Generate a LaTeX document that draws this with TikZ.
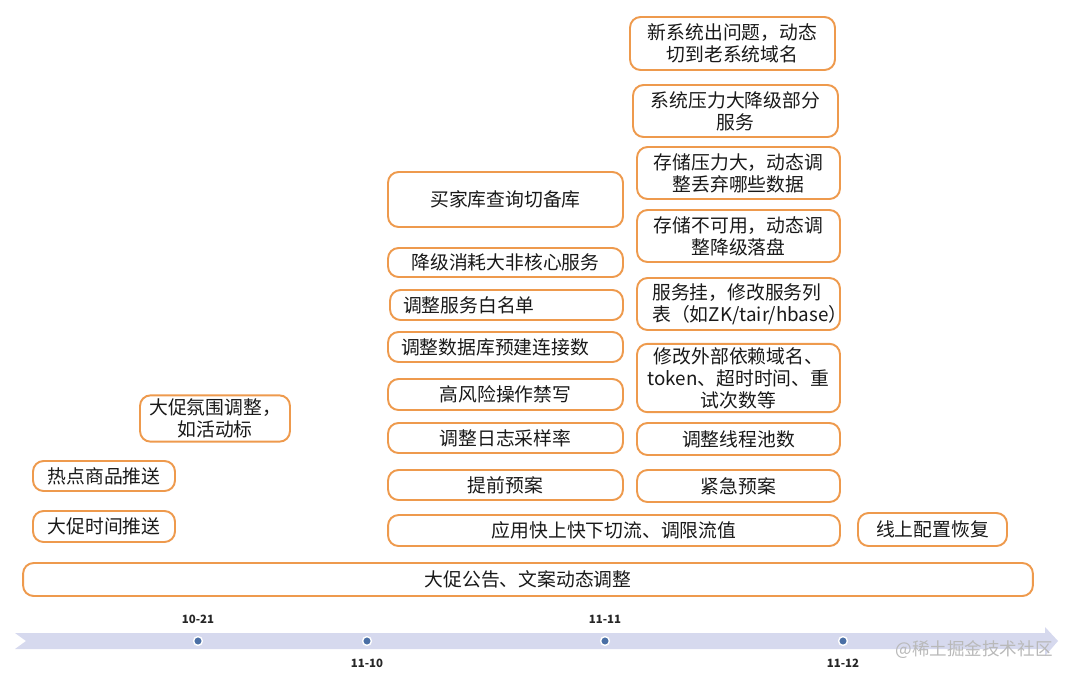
\documentclass[tikz,border=0pt]{standalone}
\usepackage{fontspec}
\setmainfont{Noto Sans CJK SC}
\definecolor{boxorange}{HTML}{EE9A4D}
\definecolor{band}{HTML}{D6D9EE}
\definecolor{dotblue}{HTML}{4A6FA5}
\begin{document}
\begin{tikzpicture}[x=0.02cm,y=-0.02cm,
  box/.style={draw=boxorange,line width=1.1pt,rounded corners=6pt,fill=white,
    inner sep=2pt,align=center,text=black!90,font=\fontsize{10.7}{12.5}\selectfont},
  tick/.style={circle,draw=white,line width=0.8pt,fill=dotblue,inner sep=0pt,minimum size=5pt},
  date/.style={font=\fontsize{6.5}{8}\selectfont\bfseries,text=black!85}]
\useasboundingbox (0,0) rectangle (1074,680);
% time line
\fill[band](15,633)--(1045,633)--(1045,627)--(1058,641)--(1045,656)--(1045,649)--(15,649)--(26,641)--cycle;
\node[tick](d1)at(198,641){};
\node[tick](d2)at(367,641){};
\node[tick](d3)at(605,641){};
\node[tick](d4)at(843,641){};
\node[date](t1)at(198,619){10-21};
\node[date](t2)at(367,663){11-10};
\node[date](t3)at(605,619){11-11};
\node[date](t4)at(843,663){11-12};
\node[text=gray!55,font=\fontsize{10}{12}\selectfont](wm)at(974,650){@稀土掘金技术社区};

% before
\node[box,minimum width=3.0cm,minimum height=0.9cm](pre1)at(215,418.5){大促氛围调整，\\如活动标};
\node[box,minimum width=2.84cm,minimum height=0.6cm](pre2)at(104,476){热点商品推送};
\node[box,minimum width=2.84cm,minimum height=0.62cm](pre3)at(104,526.5){大促时间推送};
\node[box,minimum width=20.2cm,minimum height=0.66cm](notice)at(528,579.5){大促公告、文案动态调整};

% 11-10
\node[box,minimum width=4.7cm,minimum height=1.1cm](plan1)at(505.5,199.5){买家库查询切备库};
\node[box,minimum width=4.7cm,minimum height=0.58cm](plan2)at(505.5,262.5){降级消耗大非核心服务};
\node[box,minimum width=4.66cm,minimum height=0.6cm,text width=4.14cm,align=left](plan3)at(506.5,305){调整服务白名单};
\node[box,minimum width=4.7cm,minimum height=0.6cm,text width=4.18cm,align=left](plan4)at(505.5,347){调整数据库预建连接数};
\node[box,minimum width=4.7cm,minimum height=0.62cm](plan5)at(505.5,394.5){高风险操作禁写};
\node[box,minimum width=4.7cm,minimum height=0.6cm](plan6)at(505.5,438){调整日志采样率};
\node[box,minimum width=4.7cm,minimum height=0.6cm](plan7)at(505.5,485){提前预案};
\node[box,minimum width=9.04cm,minimum height=0.62cm](flow)at(614,530.5){应用快上快下切流、调限流值};

% 11-11
\node[box,minimum width=4.1cm,minimum height=1.06cm](emg1)at(732.5,43.5){新系统出问题，动态\\切到老系统域名};
\node[box,minimum width=4.1cm,minimum height=1.04cm](emg2)at(735.5,111){系统压力大降级部分\\服务};
\node[box,minimum width=4.06cm,minimum height=1.04cm](emg3)at(738.5,173){存储压力大，动态调\\整丢弃哪些数据};
\node[box,minimum width=4.06cm,minimum height=1.04cm](emg4)at(738.5,236){存储不可用，动态调\\整降级落盘};
\node[box,minimum width=4.06cm,minimum height=1.04cm,text width=3.45cm,align=left](emg5)at(738.5,304){服务挂，修改服务列\\表（如ZK/tair/hbase）};
\node[box,minimum width=4.06cm,minimum height=1.28cm](emg6)at(738.5,378){修改外部依赖域名、\\token、超时时间、重\\试次数等};
\node[box,minimum width=4.06cm,minimum height=0.64cm](emg7)at(738.5,439){调整线程池数};
\node[box,minimum width=4.06cm,minimum height=0.64cm](emg8)at(738.5,486){紧急预案};

% 11-12
\node[box,minimum width=2.98cm,minimum height=0.66cm](back)at(932.5,529.5){线上配置恢复};

\end{tikzpicture}
\end{document}
